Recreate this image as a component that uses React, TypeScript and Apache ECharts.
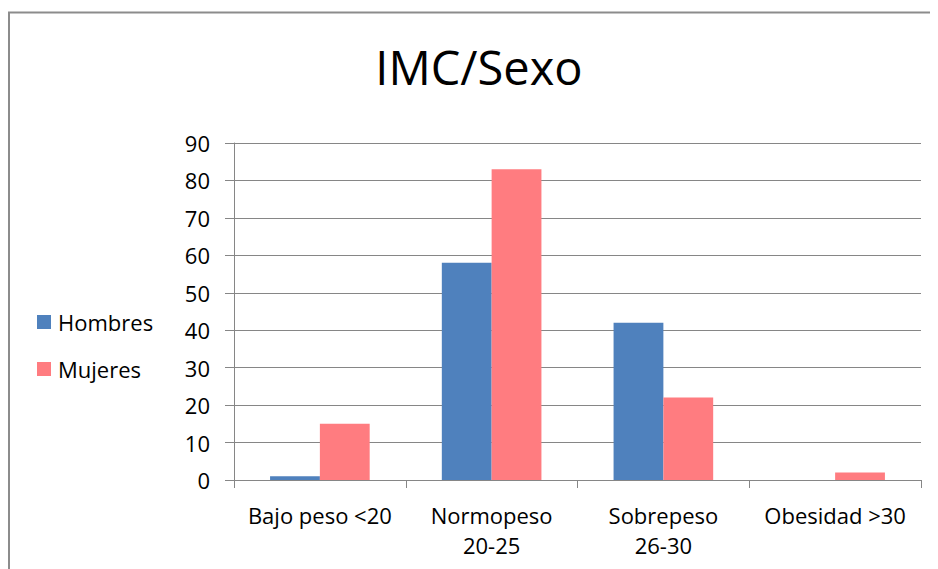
import React, { useEffect, useRef } from "react";
import * as echarts from "echarts";

const categories = ["Bajo peso <20", "Normopeso\n20-25", "Sobrepeso\n26-30", "Obesidad >30"];
const hombres = [1, 58, 42, 0];
const mujeres = [15, 83, 22, 2];
const seriesNames = ["Hombres", "Mujeres"];
const titleText = "IMC/Sexo";

const FONT = "'Open Sans', 'Noto Sans', sans-serif";

export default function App() {
  const ref = useRef<HTMLDivElement>(null);
  useEffect(() => {
    if (!ref.current) return;
    const chart = echarts.init(ref.current, null, { renderer: "svg" });
    chart.setOption({
      animation: false,
      textStyle: { fontFamily: FONT },
      graphic: [
        {
          type: "rect",
          shape: { x: 1, y: 4.5, width: 1200, height: 800 },
          style: { fill: "none", stroke: "#8c8c8c", lineWidth: 2 },
          silent: true,
        },
        {
          type: "text",
          x: 471,
          y: 59,
          style: {
            text: titleText,
            textAlign: "center",
            textVerticalAlign: "middle",
            font: `47px ${FONT}`,
            fill: "#000",
          },
        },
      ],
      legend: {
        orient: "vertical",
        left: 29,
        top: 303,
        padding: 0,
        itemWidth: 14,
        itemHeight: 14,
        itemGap: 25,
        icon: "rect",
        textStyle: { fontSize: 22, color: "#000", fontFamily: FONT, padding: [0, 0, 0, 2] },
        data: seriesNames,
      },
      grid: { left: 226, right: 17, top: 135, bottom: 89 },
      xAxis: {
        type: "category",
        data: categories,
        axisLine: { lineStyle: { color: "#868686" } },
        axisTick: { show: true, length: 8, lineStyle: { color: "#868686" } },
        axisLabel: {
          fontSize: 22,
          color: "#000",
          lineHeight: 30,
          margin: 20,
          fontFamily: FONT,
          interval: 0,
        },
      },
      yAxis: {
        type: "value",
        min: 0,
        max: 90,
        interval: 10,
        axisLine: { show: true, lineStyle: { color: "#868686" } },
        axisTick: { show: true, length: 9, lineStyle: { color: "#868686" } },
        splitLine: { lineStyle: { color: "#868686" } },
        axisLabel: { fontSize: 22, color: "#000", margin: 24, fontFamily: FONT },
      },
      series: [
        {
          name: seriesNames[0],
          type: "bar",
          data: hombres,
          itemStyle: { color: "#4F81BD" },
          barGap: "0%",
          barCategoryGap: "42%",
        },
        {
          name: seriesNames[1],
          type: "bar",
          data: mujeres,
          itemStyle: { color: "#FF7C80" },
          barGap: "0%",
          barCategoryGap: "42%",
        },
      ],
    });
    return () => chart.dispose();
  }, []);
  return <div ref={ref} style={{ width: 930, height: 561, overflow: "hidden" }} />;
}
